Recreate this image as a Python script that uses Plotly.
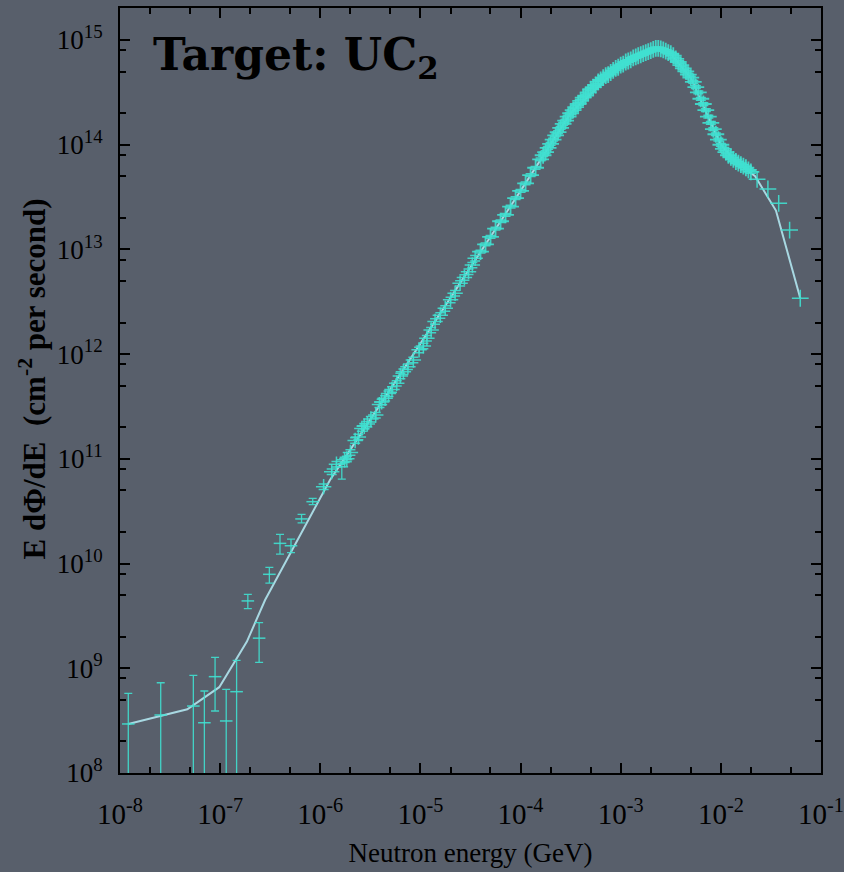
import plotly.graph_objects as go

# ---------------- data ----------------
# low-energy points with visible error bars (E in GeV, E dPhi/dE in cm^-2 s^-1)
low_E = [1.21e-8, 2.55e-8, 5.4e-8, 6.96e-8, 8.9e-8, 1.15e-7, 1.46e-7, 1.89e-7,
         2.45e-7, 3.1e-7, 3.96e-7, 5.1e-7, 6.5e-7, 8.4e-7, 1.64e-6]
low_flux = [2.94e8, 3.58e8, 4.36e8, 3.02e8, 8.32e8, 3.14e8, 5.98e8, 4.4e9,
            1.94e9, 7.9e9, 1.56e10, 1.48e10, 2.67e10, 3.9e10, 8.4e10]
low_hi = [5.77e8, 7.28e8, 8.57e8, 6.07e8, 1.27e9, 6.3e8, 1.19e9, 5.09e9,
          2.73e9, 9.2e9, 1.9e10, 1.71e10, 2.95e10, 4.2e10, 9.0e10]
low_lo = [1e7, 1e7, 1e7, 1e7, 3.91e8, 1e7, 1e7, 3.71e9,
          1.14e9, 6.5e9, 1.23e10, 1.27e10, 2.45e10, 3.65e10, 6.4e10]

# intermediate-energy points
mid_E = [1.08e-6, 1.3e-6, 1.45e-6, 1.75e-6, 1.84e-6, 2.0e-6, 2.23e-6, 2.4e-6,
         2.6e-6, 2.75e-6, 2.95e-6, 3.2e-6, 3.58e-6, 3.9e-6, 4.1e-6, 4.44e-6,
         4.8e-6, 5.2e-6, 5.8e-6, 6.3e-6, 6.76e-6, 7.5e-6, 8.5e-6, 9.7e-6,
         1.07e-5, 1.16e-5, 1.28e-5, 1.4e-5, 1.58e-5, 1.77e-5, 2.0e-5, 2.22e-5,
         2.49e-5, 2.75e-5, 3.02e-5, 3.3e-5, 3.52e-5]
mid_flux = [5.43e10, 7.55e10, 8.9e10, 9.8e10, 1.0e11, 1.15e11, 1.5e11, 1.62e11,
            1.95e11, 2.05e11, 2.15e11, 2.4e11, 2.62e11, 3.3e11, 3.5e11, 3.79e11,
            4.2e11, 4.6e11, 5.27e11, 6.2e11, 6.8e11, 7.6e11, 8.8e11, 1.1e12,
            1.2e12, 1.42e12, 1.7e12, 2.05e12, 2.35e12, 2.74e12, 3.3e12, 3.82e12,
            4.75e12, 5.4e12, 6.14e12, 7.1e12, 8.24e12]

# dense high-energy points
hi_E = [3.981e-5, 4.467e-5, 5.012e-5, 5.623e-5, 6.310e-5, 7.079e-5, 7.943e-5, 8.913e-5,
        1.0e-4, 1.122e-4, 1.259e-4, 1.413e-4,
        1.585e-4, 1.679e-4, 1.778e-4, 1.884e-4, 1.995e-4, 2.113e-4, 2.239e-4, 2.371e-4,
        2.512e-4, 2.661e-4, 2.818e-4, 2.985e-4, 3.162e-4, 3.350e-4, 3.548e-4, 3.758e-4,
        3.981e-4, 4.217e-4, 4.467e-4, 4.732e-4, 5.012e-4, 5.309e-4, 5.623e-4, 5.957e-4,
        6.310e-4, 6.683e-4, 7.079e-4, 7.499e-4, 7.943e-4, 8.414e-4, 8.913e-4, 9.441e-4,
        1.0e-3, 1.059e-3, 1.122e-3, 1.189e-3, 1.259e-3, 1.334e-3, 1.413e-3, 1.496e-3,
        1.585e-3, 1.679e-3, 1.778e-3, 1.884e-3, 1.995e-3, 2.113e-3, 2.239e-3, 2.371e-3,
        2.512e-3, 2.661e-3, 2.818e-3, 2.985e-3, 3.162e-3, 3.350e-3, 3.548e-3, 3.758e-3,
        3.981e-3, 4.217e-3, 4.467e-3, 4.732e-3, 5.012e-3, 5.309e-3, 5.623e-3, 5.957e-3,
        6.310e-3, 6.683e-3, 7.079e-3, 7.499e-3, 7.943e-3, 8.414e-3, 8.913e-3, 9.441e-3,
        1.0e-2, 1.059e-2, 1.122e-2, 1.189e-2, 1.259e-2, 1.334e-2, 1.413e-2, 1.496e-2,
        1.585e-2, 1.679e-2, 1.778e-2, 1.884e-2, 1.995e-2]
hi_flux = [9.55e12, 1.12e13, 1.32e13, 1.58e13, 1.86e13, 2.14e13, 2.57e13, 3.09e13,
           3.63e13, 4.27e13, 5.13e13, 6.03e13,
           7.24e13, 7.94e13, 8.51e13, 9.33e13, 1.02e14, 1.12e14, 1.23e14, 1.32e14,
           1.45e14, 1.58e14, 1.70e14, 1.86e14, 2.00e14, 2.14e14, 2.29e14, 2.45e14,
           2.63e14, 2.82e14, 2.95e14, 3.16e14, 3.39e14, 3.55e14, 3.72e14, 3.98e14,
           4.17e14, 4.37e14, 4.57e14, 4.68e14, 4.90e14, 5.13e14, 5.37e14, 5.50e14,
           5.75e14, 5.89e14, 6.17e14, 6.31e14, 6.46e14, 6.76e14, 6.92e14, 7.08e14,
           7.24e14, 7.41e14, 7.59e14, 7.76e14, 7.94e14, 8.13e14, 8.32e14, 8.32e14,
           8.22e14, 8.04e14, 7.85e14, 7.59e14, 7.41e14, 7.08e14, 6.61e14, 6.17e14,
           5.75e14, 5.37e14, 5.01e14, 4.68e14, 4.37e14, 3.98e14, 3.55e14, 3.16e14,
           2.75e14, 2.45e14, 2.14e14, 1.86e14, 1.62e14, 1.41e14, 1.26e14, 1.12e14,
           1.00e14, 9.12e13, 8.51e13, 7.94e13, 7.59e13, 7.24e13, 6.92e13, 6.68e13,
           6.46e13, 6.24e13, 6.03e13, 5.75e13, 5.50e13]

# sparse tail points
tail_E = [2.30e-2, 2.95e-2, 3.78e-2, 4.86e-2, 6.21e-2]
tail_flux = [4.68e13, 3.78e13, 2.76e13, 1.53e13, 3.42e12]

# smooth curve (line)
line_E = [1.21e-8, 2.55e-8, 4.7e-8, 9.8e-8, 1.85e-7, 2.81e-7, 1.25e-6, 1.99e-6,
          1.0e-5, 1.0e-4, 3.16e-4, 1.0e-3, 2.24e-3, 3.16e-3, 5.0e-3, 7.94e-3,
          1.0e-2, 1.41e-2, 2.2e-2, 3.55e-2, 6.21e-2]
line_flux = [2.94e8, 3.5e8, 4.06e8, 6.6e8, 1.8e9, 4.49e9, 6.28e10, 1.22e11,
             1.26e12, 3.63e13, 2.0e14, 5.75e14, 8.32e14, 7.41e14, 4.37e14, 1.62e14,
             1.0e14, 6.92e13, 5.0e13, 2.35e13, 3.42e12]

x_tick_vals = [1e-8, 1e-7, 1e-6, 1e-5, 1e-4, 1e-3, 1e-2, 1e-1]
x_tick_text = ["10<sup>-8</sup>", "10<sup>-7</sup>", "10<sup>-6</sup>", "10<sup>-5</sup>",
               "10<sup>-4</sup>", "10<sup>-3</sup>", "10<sup>-2</sup>", "10<sup>-1</sup>"]
y_tick_vals = [1e8, 1e9, 1e10, 1e11, 1e12, 1e13, 1e14, 1e15]
y_tick_text = ["10<sup>8</sup>", "10<sup>9</sup>", "10<sup>10</sup>", "10<sup>11</sup>",
               "10<sup>12</sup>", "10<sup>13</sup>", "10<sup>14</sup>", "10<sup>15</sup>"]

# ---------------- styling ----------------
BG = "#585f6b"
MARK = "rgba(64,224,208,0.9)"
LINE = "#a8d8e2"

x_minor = [m * 10.0 ** e for e in range(-8, -1) for m in (2, 5)]
y_minor = [m * 10.0 ** e for e in range(8, 15) for m in (2, 5, 8)]

fig = go.Figure()

fig.add_trace(go.Scatter(
    x=line_E, y=line_flux, mode="lines",
    line=dict(color=LINE, width=2), hoverinfo="skip"))

fig.add_trace(go.Scatter(
    x=low_E, y=low_flux, mode="markers",
    marker=dict(symbol="line-ew", size=9, line=dict(color=MARK, width=1.5)),
    error_y=dict(type="data", symmetric=False,
                 array=[h - v for h, v in zip(low_hi, low_flux)],
                 arrayminus=[v - l for v, l in zip(low_flux, low_lo)],
                 color=MARK, thickness=1.3, width=4)))

fig.add_trace(go.Scatter(
    x=mid_E, y=mid_flux, mode="markers",
    marker=dict(symbol="cross-thin", size=11, line=dict(color=MARK, width=1.5)),
    error_y=dict(type="percent", value=6, color=MARK, thickness=1.5, width=5)))

fig.add_trace(go.Scatter(
    x=hi_E, y=hi_flux, mode="markers",
    marker=dict(symbol="cross-thin", size=12, line=dict(color=MARK, width=1.8)),
    error_y=dict(type="percent", value=3, color=MARK, thickness=1.5, width=5)))

fig.add_trace(go.Scatter(
    x=tail_E, y=tail_flux, mode="markers",
    marker=dict(symbol="cross-thin", size=12, line=dict(color=MARK, width=1.5))))

axis_common = dict(
    type="log", showline=True, linecolor="black", linewidth=2, mirror="allticks",
    ticks="inside", ticklen=10, tickwidth=1.5, tickcolor="black",
    showgrid=False, zeroline=False, automargin=False,
)

fig.update_xaxes(
    **axis_common, range=[-8, -1],
    tickmode="array", tickvals=x_tick_vals, ticktext=x_tick_text,
    tickfont=dict(family="Liberation Serif", size=29, color="black"),
    ticklabelstandoff=14,
    minor=dict(tickvals=x_minor, ticks="inside", ticklen=6, tickwidth=1.5,
               tickcolor="black", showgrid=False),
    title=dict(text="Neutron energy (GeV)", standoff=14,
               font=dict(family="Liberation Serif", size=27, color="black")),
)
fig.update_yaxes(
    **axis_common, range=[8, 15.306],
    tickmode="array", tickvals=y_tick_vals, ticktext=y_tick_text,
    tickfont=dict(family="Liberation Serif", size=27, color="black"),
    ticklabelstandoff=10,
    minor=dict(tickvals=y_minor, ticks="inside", ticklen=6, tickwidth=1.5,
               tickcolor="black", showgrid=False),
)

# y-axis title placed as a rotated annotation
fig.add_annotation(
    xref="paper", yref="paper", x=-0.125, y=0.515, xanchor="center", yanchor="middle",
    text="<b>E dΦ/dE  (cm<sup>-2</sup> per second)</b>", showarrow=False, textangle=-90,
    font=dict(family="Liberation Serif", size=31, color="black"))

fig.add_annotation(
    xref="paper", yref="paper", x=0.044, y=0.935, xanchor="left", yanchor="middle",
    text="<b>Target: UC<sub>2</sub></b>", showarrow=False,
    font=dict(family="DejaVu Serif", size=44, color="black"))

fig.update_layout(
    width=844, height=872,
    paper_bgcolor=BG, plot_bgcolor=BG,
    margin=dict(l=120, r=23, t=8, b=99),
    showlegend=False,
)

fig.write_html("out.html")
